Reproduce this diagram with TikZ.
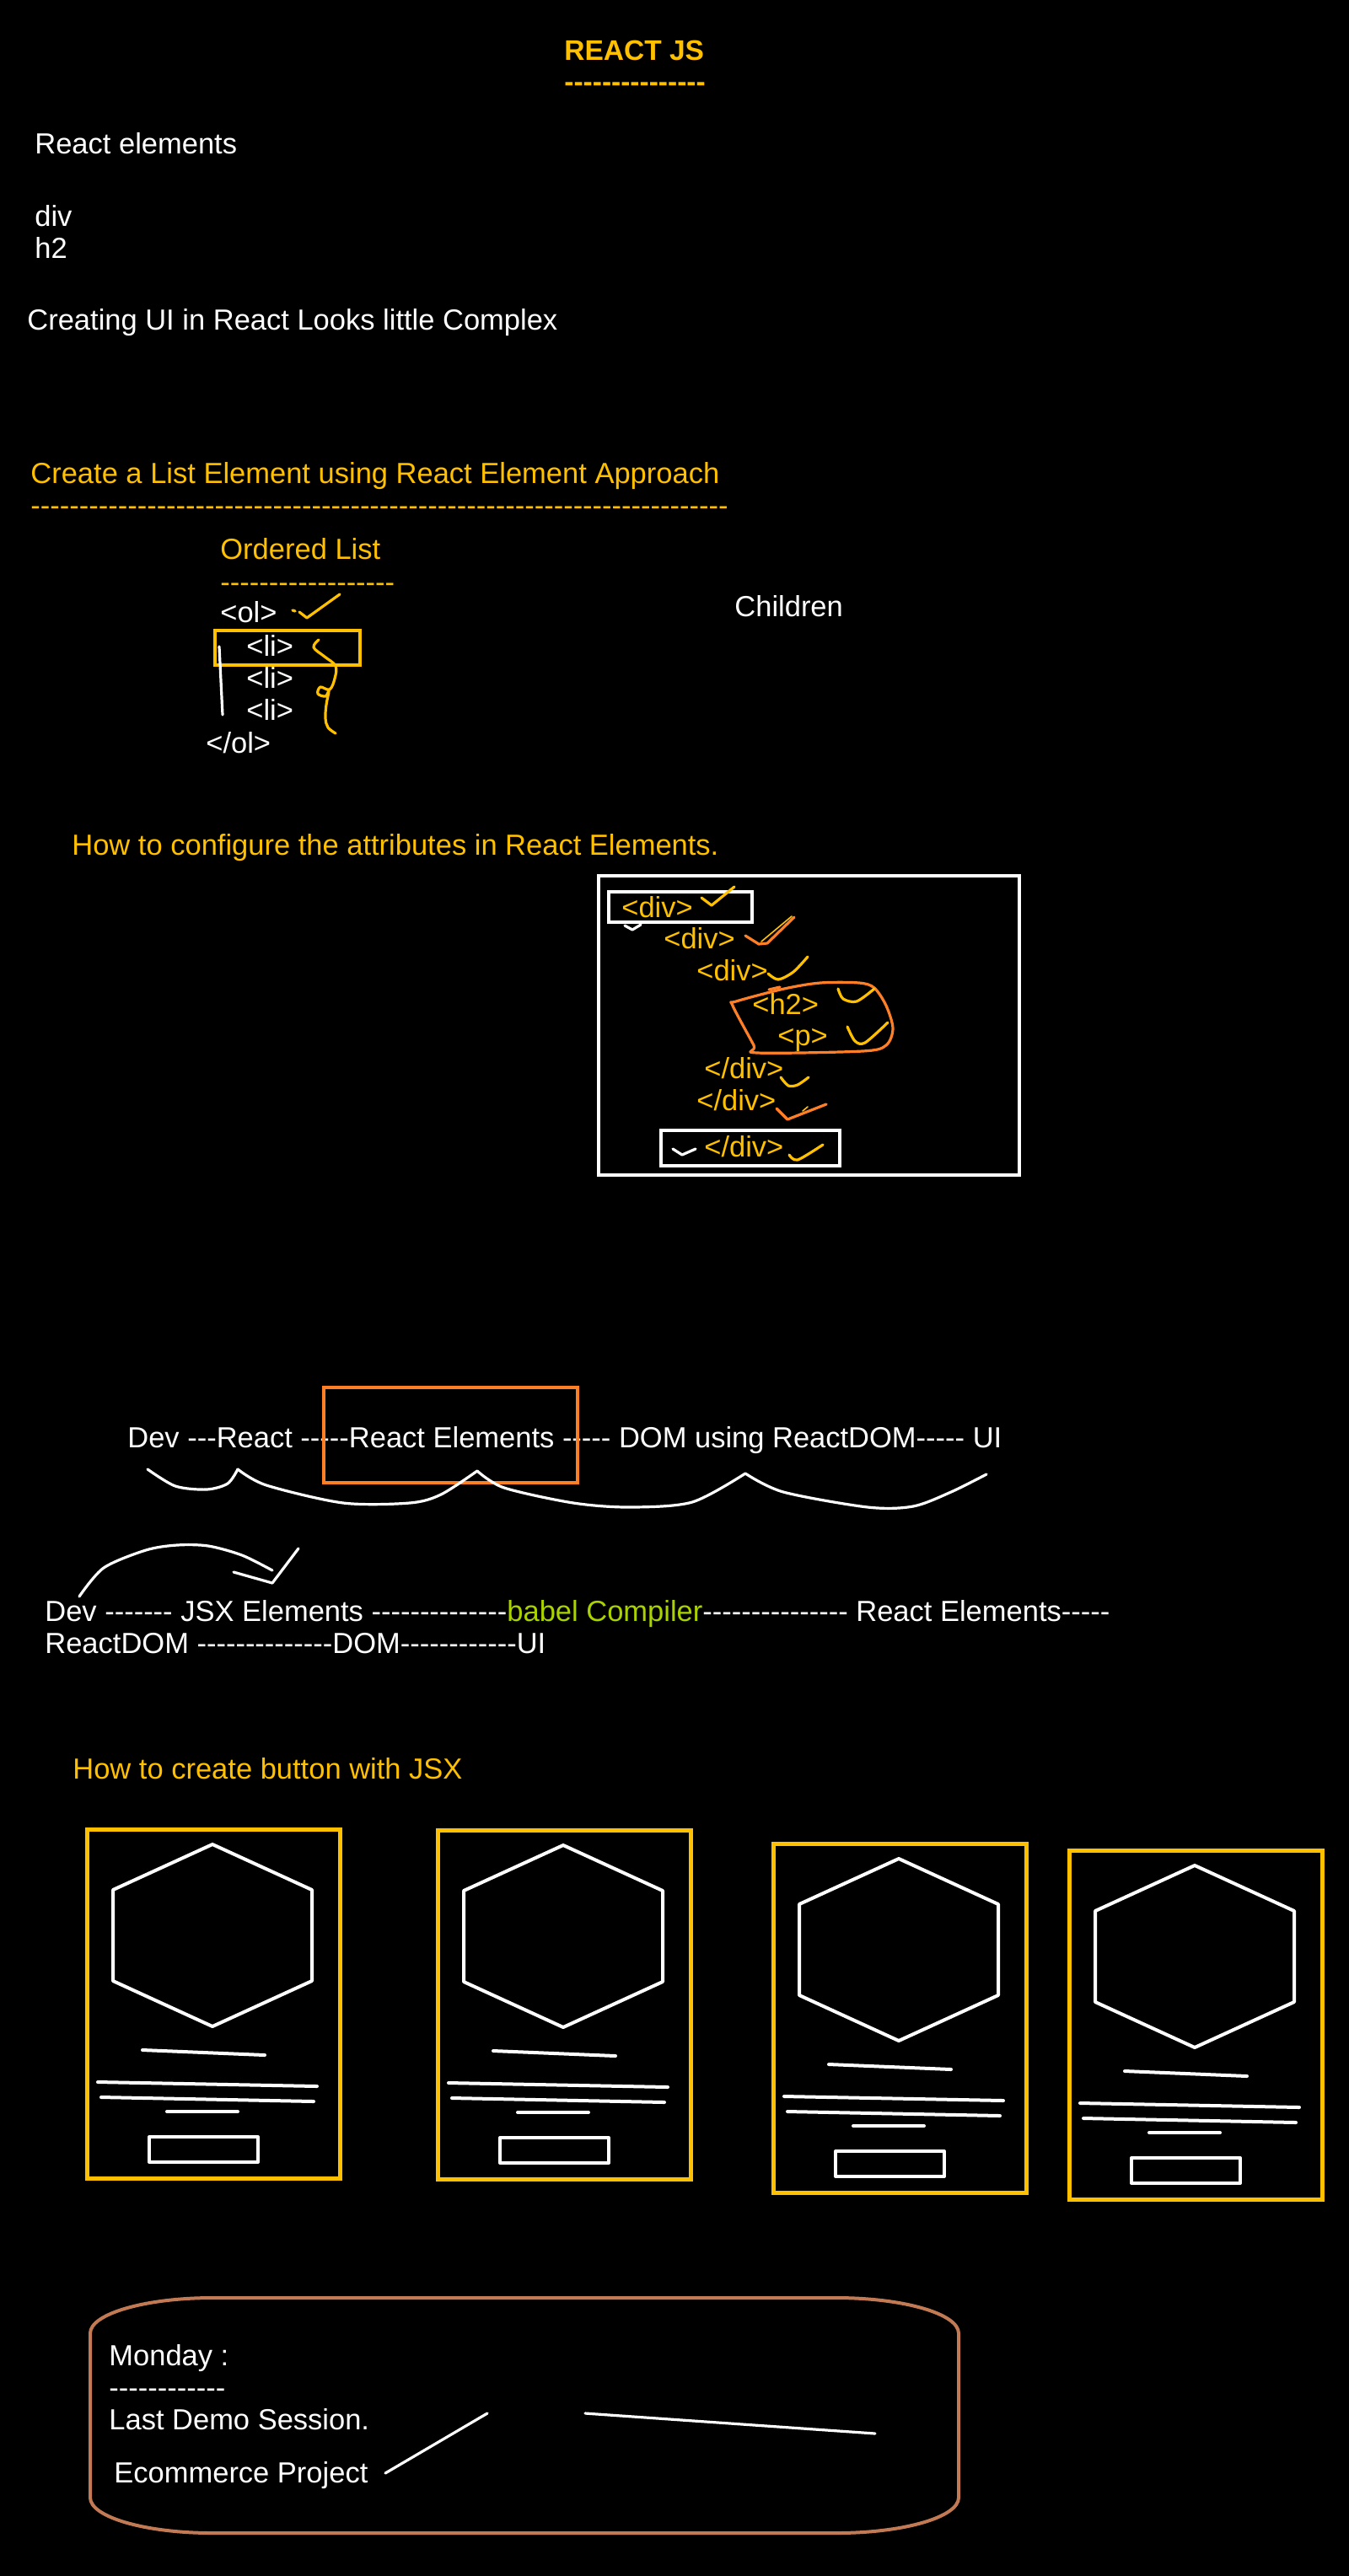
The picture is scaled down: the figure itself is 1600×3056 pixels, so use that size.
\documentclass[tikz,border=0pt]{standalone}
\usepackage{fontspec}
\setmainfont{Liberation Sans}
\usepackage{tikz}
\definecolor{penyellow}{RGB}{255,192,0}
\definecolor{penorange}{RGB}{255,127,39}
\definecolor{babelgreen}{RGB}{170,210,0}
\definecolor{boxbrown}{RGB}{193,122,84}
\newcommand{\dd}[1]{\foreach \k in {1,...,#1}{-\kern0pt}}

\begin{document}
\begin{tikzpicture}[x=0.5pt, y=-0.5pt,
    txt/.style={anchor=base west, inner sep=0pt, text=white, font=\fontsize{17.25}{20.7}\selectfont},
    hd/.style={txt, text=penyellow},
    pen/.style={line width=1.6pt, line cap=round, line join=round},
    sketch/.style={draw=white, line width=2pt, line cap=round, line join=round},
    card/.style={draw=penyellow, line width=2.5pt}]
    \fill[black] (0,0) rectangle (1600,3056);

    \node[hd, font=\fontsize{16.75}{20}\selectfont\bfseries] (title) at (669, 72) {REACT JS};
    \node[hd, font=\fontsize{16.75}{20}\selectfont\bfseries] (titleline) at (669, 109) {\dd{15}};
    \node[txt] (relem) at (41, 183) {React elements};
    \node[txt] (divtxt) at (41, 268) {div};
    \node[txt] (htwo) at (41, 306) {h2};
    \node[txt] (complex) at (32, 391) {Creating UI in React Looks little Complex};

    \node[hd] (listhd) at (36, 573) {Create a List Element using React Element Approach};
    \node[hd] (listline) at (36, 611) {\dd{72}};
    \node[hd] (olhd) at (261, 663) {Ordered List};
    \node[hd] (olline) at (261, 702) {\dd{18}};
    \node[txt] (olopen) at (261, 738) {<ol>};
    \node[txt] (li1) at (292, 778) {<li>};
    \node[txt] (li2) at (292, 816) {<li>};
    \node[txt] (li3) at (292, 854) {<li>};
    \node[txt] (olclose) at (244, 893) {</ol>};
    \node[txt] (children) at (871, 731) {Children};
    \draw[penyellow, line width=2pt] (255, 748) rectangle (427, 789);
    \draw[white, pen] (260, 767) -- (264, 848);
    \draw[penyellow, pen] (347, 724) -- (350, 725);
    \draw[penyellow, pen] (355, 726) -- (364, 733) -- (403, 705);
    \draw[penyellow, pen] plot[smooth, tension=0.6] coordinates {(378, 759) (372, 768) (385, 779) (398, 790) (397, 805) (391, 818) (380, 815) (377, 823) (386, 826) (390, 820) (387, 836) (386, 852) (389, 863) (398, 870)};

    \node[hd] (attrhd) at (85, 1014) {How to configure the attributes in React Elements.};
    \draw[white, line width=2.2pt] (710, 1039) rectangle (1209, 1394);
    \draw[white, line width=1.8pt] (722, 1058) rectangle (892, 1094);
    \draw[white, line width=1.8pt] (784, 1341) rectangle (996, 1383);
    \node[hd] (divA) at (737, 1088) {<div>};
    \node[hd] (divB) at (787, 1125) {<div>};
    \node[hd] (divC) at (826, 1163) {<div>};
    \node[hd] (htag) at (892, 1203) {<h2>};
    \node[hd] (ptag) at (922, 1240) {<p>};
    \node[hd] (divCc) at (835, 1279) {</div>};
    \node[hd] (divBc) at (826, 1317) {</div>};
    \node[hd] (divAc) at (835, 1372) {</div>};
    \draw[white, pen] (741, 1098) -- (750, 1103) -- (760, 1097);
    \draw[white, pen] (798, 1363) -- (809, 1370) -- (825, 1363);
    \draw[penyellow, pen] (832, 1065) -- (844, 1074) -- (871, 1052);
    \draw[penorange, pen] (884, 1110) -- (900, 1120) -- (910, 1119) -- (942, 1088);
    \draw[penyellow, line width=0.8pt, line cap=round] (903, 1117) -- (939, 1087);
    \draw[penyellow, pen] plot[smooth] coordinates {(911, 1155) (923, 1162) (941, 1153) (958, 1135)};
    \draw[penorange, pen] plot[smooth cycle, tension=0.5] coordinates {(873, 1188) (930, 1173) (973, 1166) (1019, 1166) (1037, 1172) (1051, 1193) (1059, 1220) (1051, 1240) (1023, 1247) (898, 1249) (894, 1240) (869, 1193)};
    \draw[penorange, pen] (912, 1174) -- (925, 1171);
    \draw[penyellow, pen] plot[smooth] coordinates {(994, 1173) (1000, 1185) (1016, 1188) (1037, 1173)};
    \draw[penyellow, pen] plot[smooth] coordinates {(1005, 1218) (1014, 1235) (1026, 1237) (1053, 1213)};
    \draw[penyellow, pen] plot[smooth] coordinates {(926, 1278) (935, 1288) (946, 1287) (959, 1278)};
    \draw[penorange, pen] (921, 1315) -- (934, 1328) -- (980, 1310);
    \draw[penyellow, line width=0.8pt, line cap=round] (952, 1318) -- (958, 1313);
    \draw[penyellow, pen] plot[smooth] coordinates {(936, 1370) (946, 1376) (976, 1358)};

    \node[txt] (flow1) at (151, 1717) {Dev \dd{3}React \dd{5}React Elements \dd{5} DOM using ReactDOM\dd{5} UI};
    \draw[penorange, line width=2pt] (384, 1646) rectangle (685, 1759);
    \draw[white, pen] plot[smooth, tension=0.5] coordinates {(175, 1743) (208, 1763) (245, 1767) (270, 1760) (282, 1743)};
    \draw[white, pen] plot[smooth, tension=0.5] coordinates {(282, 1743) (316, 1762) (407, 1783) (486, 1783) (523, 1773) (566, 1745)};
    \draw[white, pen] plot[smooth, tension=0.5] coordinates {(566, 1745) (598, 1765) (680, 1783) (747, 1788) (821, 1782) (884, 1748)};
    \draw[white, pen] plot[smooth, tension=0.5] coordinates {(884, 1748) (929, 1770) (1029, 1788) (1083, 1787) (1128, 1770) (1170, 1749)};

    \draw[white, pen] plot[smooth] coordinates {(94, 1894) (123, 1860) (173, 1839) (210, 1833) (247, 1834) (287, 1845) (323, 1863)};
    \draw[white, pen] (277, 1865) -- (323, 1878) -- (354, 1837);
    \node[txt] (flow2a) at (53, 1923) {Dev \dd{7} JSX Elements \dd{14}\textcolor{babelgreen}{babel Compiler}\dd{15} React Elements\dd{5}};
    \node[txt] (flow2b) at (53, 1961) {ReactDOM \dd{14}DOM\dd{12}UI};

    \node[hd] (btnhd) at (86, 2110) {How to create button with JSX};
    \foreach \cx/\cy in {103/2170, 519/2171, 917/2187, 1268/2195}{
        \begin{scope}[shift={(\cx, \cy)}]
            \draw[card] (0, 0) rectangle (300, 414);
            \draw[sketch] (149, 18) -- (267, 72) -- (267, 180) -- (149, 234) -- (31, 180) -- (31, 72) -- cycle;
            \draw[sketch] (66, 262) -- (211, 268);
            \draw[sketch] (13, 300) -- (273, 305);
            \draw[sketch] (17, 318) -- (269, 323);
            \draw[sketch] (95, 335) -- (179, 335);
            \draw[sketch] (74, 365) rectangle (203, 395);
        \end{scope}
    }

    \draw[boxbrown, line width=2pt] (252, 2726) -- (992, 2726) .. controls (1072, 2726) and (1137, 2745) .. (1137, 2768) -- (1137, 2963) .. controls (1137, 2986) and (1072, 3005) .. (992, 3005) -- (252, 3005) .. controls (172, 3005) and (107, 2986) .. (107, 2963) -- (107, 2768) .. controls (107, 2745) and (172, 2726) .. (252, 2726) -- cycle;
    \node[txt] (monday) at (129, 2806) {Monday :};
    \node[txt] (mondayline) at (129, 2844) {\dd{12}};
    \node[txt] (demo) at (129, 2882) {Last Demo Session.};
    \node[txt] (ecom) at (135, 2945) {Ecommerce Project};
    \draw[white, pen] (457, 2934) -- (578, 2863);
    \draw[white, pen] (694, 2863) -- (1038, 2887);
\end{tikzpicture}
\end{document}
